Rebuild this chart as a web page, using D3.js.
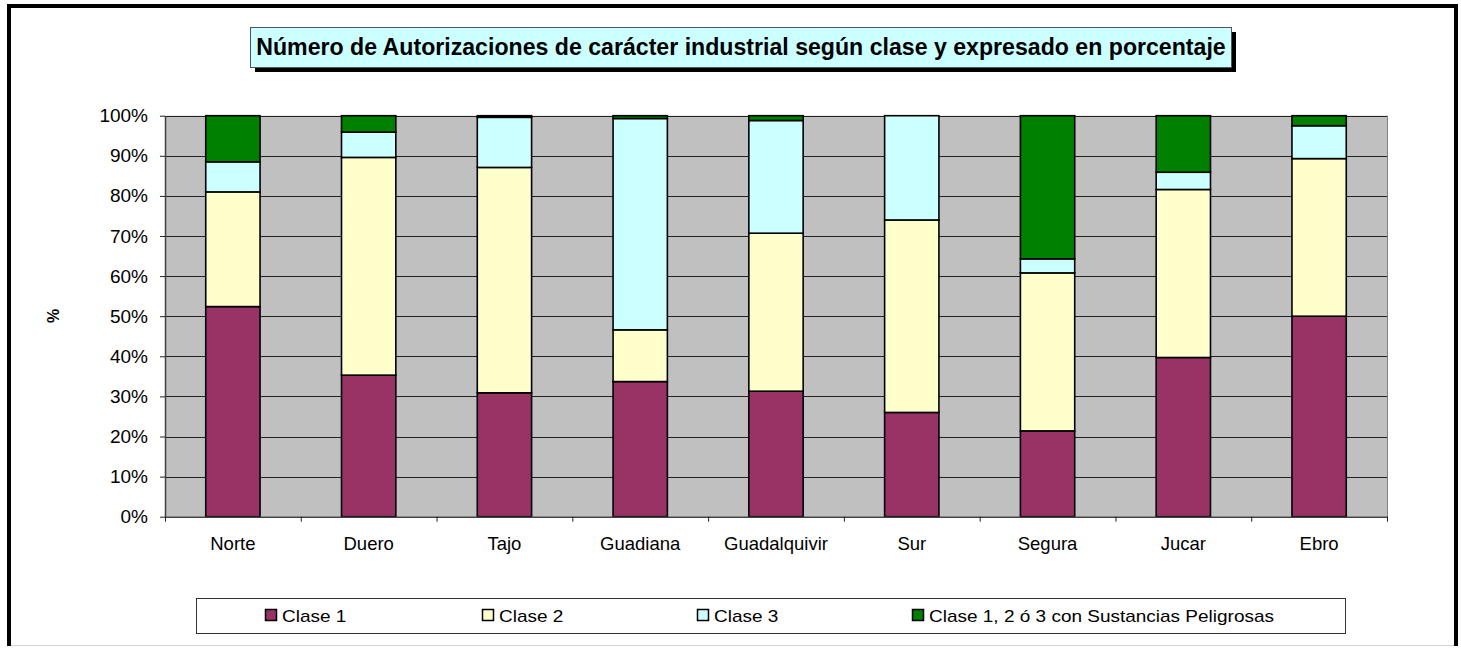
<!DOCTYPE html>
<html>
<head>
<meta charset="utf-8">
<script src="https://cdn.jsdelivr.net/npm/d3@7"></script>
<style>
  html, body { margin: 0; padding: 0; background: #fff; }
  svg { display: block; font-family: "Liberation Sans", Arial, sans-serif; }
</style>
</head>
<body>
<svg id="chart" width="1461" height="648"></svg>
<script>
// ---- data ----
const categories = ["Norte", "Duero", "Tajo", "Guadiana", "Guadalquivir", "Sur", "Segura", "Jucar", "Ebro"];
const clase1 = [52.4, 35.3, 30.9, 33.7, 31.3, 26.0, 21.4, 39.7, 50.0];
const clase2 = [28.6, 54.3, 56.2, 12.9, 39.4, 48.0, 39.4, 41.9, 39.3];
const clase3 = [7.5, 6.3, 12.5, 52.7, 28.1, 26.0, 3.5, 4.3, 8.2];
const peligrosas = [11.5, 4.1, 0.4, 0.7, 1.2, 0.0, 35.7, 14.1, 2.5];
const seriesNames = ["Clase 1", "Clase 2", "Clase 3", "Clase 1, 2 ó 3 con Sustancias Peligrosas"];
const seriesColors = ["#993366", "#FFFFCC", "#CCFFFF", "#008000"];
const yTicks = [0, 0.1, 0.2, 0.3, 0.4, 0.5, 0.6, 0.7, 0.8, 0.9, 1.0];
const titleText = "Número de Autorizaciones de carácter industrial según clase y expresado en porcentaje";
const yAxisTitle = "%";

// ---- layout ----
const svg = d3.select("#chart");
const plot = { left: 165, right: 1387, top: 115.7, bottom: 516.7 };

// outer frame
svg.append("line").attr("x1", 9).attr("x2", 9).attr("y1", 4).attr("y2", 646).attr("stroke", "#000").attr("stroke-width", 4);
svg.append("line").attr("x1", 7).attr("x2", 1458).attr("y1", 6).attr("y2", 6).attr("stroke", "#000").attr("stroke-width", 4);
svg.append("line").attr("x1", 1456).attr("x2", 1456).attr("y1", 4).attr("y2", 646).attr("stroke", "#000").attr("stroke-width", 4);
svg.append("line").attr("x1", 11).attr("x2", 1454).attr("y1", 645.5).attr("y2", 645.5).attr("stroke", "#d4d4d4").attr("stroke-width", 1);

// scales
const x = d3.scaleBand().domain(categories).range([plot.left, plot.right]).paddingInner(0.6).paddingOuter(0.3);
const xEdges = d3.scaleLinear().domain([0, categories.length]).range([plot.left, plot.right]);
const y = d3.scaleLinear().domain([0, 1]).range([plot.bottom, plot.top]);

// plot background
svg.append("rect").attr("x", plot.left).attr("y", plot.top)
  .attr("width", plot.right - plot.left).attr("height", plot.bottom - plot.top)
  .attr("fill", "#C0C0C0");

// gridlines
svg.append("g").selectAll("line").data(yTicks.slice(1)).join("line")
  .attr("x1", plot.left).attr("x2", plot.right)
  .attr("y1", d => Math.round(y(d)) + 0.5).attr("y2", d => Math.round(y(d)) + 0.5)
  .attr("stroke", "#222").attr("stroke-width", 1);

// right border of plot
svg.append("line").attr("x1", plot.right + 0.5).attr("x2", plot.right + 0.5)
  .attr("y1", plot.top).attr("y2", plot.bottom).attr("stroke", "#808080");

// stacked bars
const rows = categories.map((c, i) => ({ cat: c, s0: clase1[i] / 100, s1: clase2[i] / 100, s2: clase3[i] / 100, s3: peligrosas[i] / 100 }));
const stack = d3.stack().keys(["s0", "s1", "s2", "s3"]);
const stacked = stack(rows);
const gBars = svg.append("g");
stacked.forEach((layer, li) => {
  gBars.append("g").selectAll("rect").data(layer).join("rect")
    .attr("x", d => x(d.data.cat))
    .attr("width", x.bandwidth())
    .attr("y", d => y(Math.min(d[1], 1)))
    .attr("height", d => Math.max(0, y(d[0]) - y(Math.min(d[1], 1))))
    .attr("fill", seriesColors[li])
    .attr("stroke", "#000")
    .attr("stroke-width", 1.6);
});

// y axis
const yAxis = svg.append("g").attr("transform", `translate(${plot.left},0)`)
  .call(d3.axisLeft(y).tickValues(yTicks).tickFormat(d3.format(".0%")).tickSize(5).tickPadding(12).tickSizeOuter(0));
yAxis.select(".domain").attr("stroke", "#404040").attr("stroke-width", 1.5);
yAxis.selectAll(".tick line").attr("stroke", "#222");
yAxis.selectAll("text").attr("font-size", 19).attr("fill", "#000")
  .attr("font-family", "'Liberation Sans', Arial, sans-serif");

// x axis: boundary ticks
const xTicks = svg.append("g").attr("transform", `translate(0,${plot.bottom})`)
  .call(d3.axisBottom(xEdges).tickValues(d3.range(categories.length + 1)).tickFormat("").tickSize(5).tickSizeOuter(0));
xTicks.select(".domain").attr("stroke", "#404040").attr("stroke-width", 1.5);
xTicks.selectAll(".tick line").attr("stroke", "#222");

// x axis labels
const xAxis = svg.append("g").attr("transform", `translate(0,${plot.bottom})`)
  .call(d3.axisBottom(x).tickSize(0).tickPadding(20));
xAxis.select(".domain").remove();
xAxis.selectAll("text").attr("font-size", 18.5).attr("fill", "#000")
  .attr("font-family", "'Liberation Sans', Arial, sans-serif");

// y axis title
svg.append("text").attr("transform", "translate(59,316) rotate(-90)")
  .attr("text-anchor", "middle").attr("font-size", 16).attr("font-weight", "bold").text(yAxisTitle);

// title box with shadow
const tb = { x: 250, y: 27, w: 981, h: 40 };
svg.append("rect").attr("x", tb.x + 5).attr("y", tb.y + 5).attr("width", tb.w).attr("height", tb.h).attr("fill", "#000");
svg.append("rect").attr("x", tb.x + 0.5).attr("y", tb.y + 0.5).attr("width", tb.w).attr("height", tb.h)
  .attr("fill", "#CCFFFF").attr("stroke", "#555").attr("stroke-width", 1);
const t = svg.append("text").attr("x", tb.x + tb.w / 2 + 0.5).attr("y", 55)
  .attr("text-anchor", "middle").attr("font-weight", "bold").attr("font-size", 21).text(titleText);
const tl = t.node().getComputedTextLength();
t.attr("font-size", 21 * 970 / tl);

// legend
const lg = { x: 196, y: 598, w: 1149, h: 35 };
svg.append("rect").attr("x", lg.x + 0.5).attr("y", lg.y + 0.5).attr("width", lg.w).attr("height", lg.h)
  .attr("fill", "#fff").attr("stroke", "#333").attr("stroke-width", 1);
const legendX = [265, 482, 697, 912];
const legendTexts = seriesNames.map((n, i) => {
  svg.append("rect").attr("x", legendX[i] + 0.5).attr("y", 609.5).attr("width", 11).attr("height", 11)
    .attr("fill", seriesColors[i]).attr("stroke", "#000").attr("stroke-width", 1.5);
  return svg.append("text").attr("x", legendX[i] + 17).attr("y", 621.5).attr("font-size", 17).attr("fill", "#000").text(n);
});
// the original legend text is wider than Liberation Sans at this size: stretch horizontally
const lastLen = legendTexts[3].node().getComputedTextLength();
const k = 345 / lastLen;
legendTexts.forEach(tx => {
  const L = tx.node().getComputedTextLength();
  tx.attr("textLength", L * k).attr("lengthAdjust", "spacingAndGlyphs");
});
</script>
</body>
</html>
